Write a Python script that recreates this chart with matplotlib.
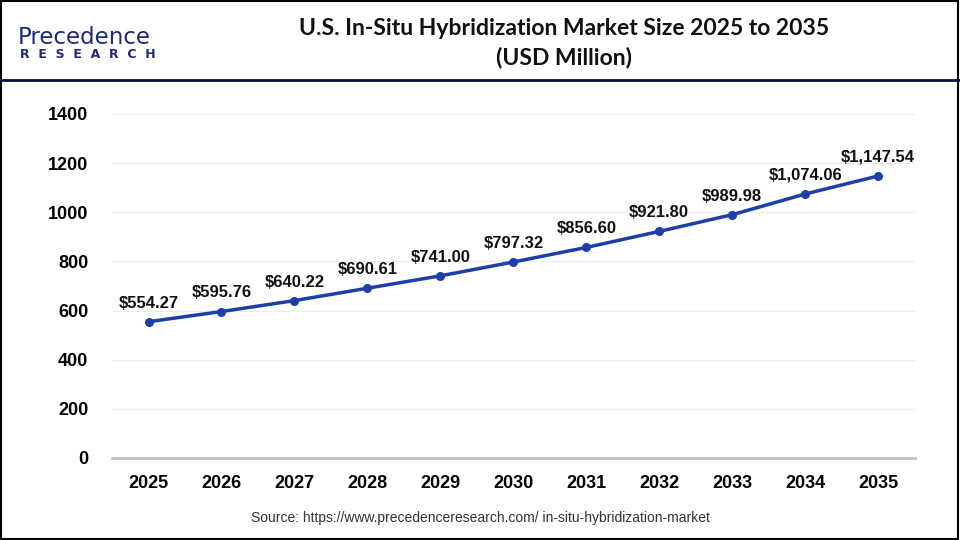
import numpy as np
import matplotlib.pyplot as plt
from matplotlib.lines import Line2D
from matplotlib.patches import Rectangle

# data
years = ['2025', '2026', '2027', '2028', '2029', '2030',
         '2031', '2032', '2033', '2034', '2035']
market_size = [554.27, 595.76, 640.22, 690.61, 741.00, 797.32,
               856.60, 921.80, 989.98, 1074.06, 1147.54]
yticks = [0, 200, 400, 600, 800, 1000, 1200, 1400]

line_color = '#1f3fa8'

fig = plt.figure(figsize=(9.6, 5.4), dpi=100)
ax = fig.add_axes([0.1167, 0.152, 0.836, 0.637])

x = np.arange(len(years))
ax.plot(x, market_size, color=line_color, lw=2.5, marker='o', ms=5.5, zorder=3)

for xi, v in zip(x, market_size):
    ax.annotate(f'${v:,.2f}', (xi, v), xytext=(0, 8), textcoords='offset points',
                ha='center', va='bottom', fontsize=12, fontweight='bold',
                family='Liberation Sans', color='#111111')

ax.set_xlim(-0.5, len(years) - 0.5)
ax.set_ylim(0, 1400)
ax.set_yticks(yticks)
ax.set_xticks(x)
ax.set_xticklabels(years)
ax.grid(axis='y', color='#ececec', lw=0.8)
ax.set_axisbelow(True)
for s in ['top', 'right', 'left']:
    ax.spines[s].set_visible(False)
ax.spines['bottom'].set_color('#c0c0c0')
ax.spines['bottom'].set_linewidth(2)
ax.tick_params(length=0, labelsize=13, pad=12)
for lab in ax.get_xticklabels() + ax.get_yticklabels():
    lab.set_fontweight('bold')
    lab.set_family('Liberation Sans')
ax.tick_params(axis='y', pad=17)

# title
fig.text(0.588, 0.948, 'U.S. In-Situ Hybridization Market Size 2025 to 2035',
         ha='center', va='center', fontsize=16.5, fontweight='bold',
         family='Lato', color='#111111')
fig.text(0.588, 0.893, '(USD Million)', ha='center', va='center', fontsize=16.5,
         fontweight='bold', family='Lato', color='#111111')

# logo
fig.text(0.019, 0.93, 'Precedence', ha='left', va='center', fontsize=16.5,
         family='DejaVu Sans', color='#1b2a7a')
fig.text(0.021, 0.9, 'R  E  S  E  A  R  C  H', ha='left', va='center',
         fontsize=9, fontweight='bold', family='DejaVu Sans', color='#1b2a7a')

# header separator and border
fig.add_artist(Line2D([0, 1], [0.852, 0.852], transform=fig.transFigure,
                      color='#0a0f3c', lw=2))
fig.add_artist(Rectangle((0.001, 0.002), 0.997, 0.996, transform=fig.transFigure,
                         fill=False, edgecolor='black', lw=1.5))

fig.text(0.5, 0.04, 'Source: https://www.precedenceresearch.com/ in-situ-hybridization-market',
         ha='center', va='center', fontsize=10,
         family='Liberation Sans', color='#333333')

fig.savefig('out.png', dpi=100)
